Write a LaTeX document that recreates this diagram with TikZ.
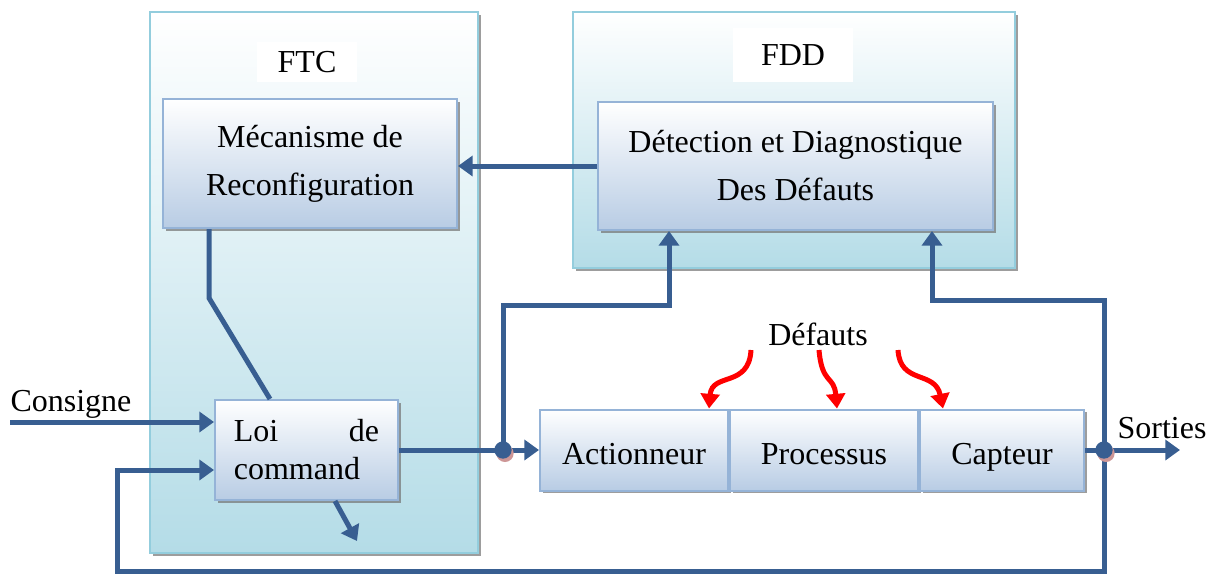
\documentclass[tikz,border=0pt]{standalone}
\usepackage{fontspec}
\setmainfont{Liberation Serif}
\usetikzlibrary{arrows.meta,shadows}

\definecolor{lineblue}{RGB}{56,94,145}
\definecolor{grpborder}{RGB}{147,205,221}
\definecolor{grpfill}{RGB}{180,220,231}
\definecolor{blkborder}{RGB}{149,179,215}
\definecolor{blkfill}{RGB}{184,204,228}
\definecolor{dotshadow}{RGB}{205,150,150}

\tikzset{every picture/.style={line width=0.75pt}}

\begin{document}
\begin{tikzpicture}[x=0.75pt,y=0.75pt,yscale=-1,xscale=1,
  font=\fontsize{24}{36}\selectfont,
  group/.style={draw=grpborder,line width=1.5pt,top color=white,bottom color=grpfill,inner sep=0pt,
    drop shadow={shadow xshift=2.5pt,shadow yshift=-2.5pt,fill=black!55,opacity=0.7}},
  block/.style={draw=blkborder,line width=1.5pt,top color=white,bottom color=blkfill,inner sep=0pt,align=center,
    drop shadow={shadow xshift=2pt,shadow yshift=-2pt,fill=black!55,opacity=0.7}},
  chain/.style={block,minimum height=60.75pt,text height=21pt,text depth=0pt},
  link/.style={draw=lineblue,line width=3.75pt},
  arr/.style={link,-{Triangle[length=11pt,width=15pt]}},
  fault/.style={draw=red,line width=3.75pt,-{Triangle[length=11pt,width=14pt]}},
  junction/.style={circle,fill=lineblue,minimum size=13pt,inner sep=0pt,
    drop shadow={shadow xshift=1.5pt,shadow yshift=-2.5pt,fill=dotshadow,opacity=1}}
]
\useasboundingbox (0,0) rectangle (1221,576);

%Shape: FTC and FDD frames
\node[group,minimum width=246pt,minimum height=405.75pt] (ftc) at (314,282.5) {};
\node[group,minimum width=331.5pt,minimum height=192pt] (fdd) at (794,140) {};
% Text Node
\node[fill=white,minimum width=75pt,minimum height=30pt] (ftclbl) at (307,62) {FTC};
\node[fill=white,minimum width=90pt,minimum height=40pt] (fddlbl) at (793,55) {FDD};

%Shape: blocks
\node[block,minimum width=220.5pt,minimum height=96.75pt] (mec) at (310,163.5) {Mécanisme de\\Reconfiguration};
\node[block,minimum width=296.25pt,minimum height=96pt] (det) at (795.5,166) {Détection et Diagnostique\\Des Défauts};
\node[block,minimum width=137.25pt,minimum height=75pt,text width=109pt,align=left,
  font=\fontsize{24}{28.5}\selectfont] (loi) at (306.5,450) {Loi\hfill de\\command};
\node[chain,minimum width=141pt] (act) at (634,450) {Actionneur};
\node[chain,minimum width=141pt,anchor=west] (proc) at (act.east) {Processus};
\node[chain,minimum width=123pt,anchor=west] (cap) at (proc.east) {Capteur};

% Text Node
\node[anchor=base] (conslbl) at (71,411) {Consigne};
\node[anchor=base] (deflbl) at (818,345) {Défauts};
\node[anchor=base] (sortlbl) at (1162,438) {Sorties};

\coordinate (j1) at (503,450);
\coordinate (j2) at (1104,450);
\coordinate (cons) at (10,422);
\coordinate (sort) at (1180,450);
\coordinate (uout) at (357,541);
\coordinate (f1) at (751,350);
\coordinate (f2) at (819,350);
\coordinate (f3) at (898,350);

%Straight Lines
\draw[arr] (det.west) -- (det.west -| mec.east);
\draw[link] ([xshift=35.25pt]mec.south west) -- ++(0,69) -- ([xshift=42pt]loi.north west);
\draw[arr] (cons) -- ([yshift=-21pt]loi.west);
\draw[arr] ([xshift=90.75pt]loi.south west) -- (uout);
\draw[link] (loi.east) -- (j1);
\draw[arr] (j1) -- (act.west);
\draw[arr] (j1) -- ++(0,-145) -| ([xshift=54pt]det.south west);
\draw[link] (cap.east) -- (j2);
\draw[arr] (j2) -- (sort);
\draw[arr] (j2) -- ++(0,-150) -| ([xshift=-46.5pt]det.south east);
\draw[arr] (j2) -- ++(0,121) -| ([xshift=-72.75pt,yshift=15pt]loi.west) -- ([yshift=15pt]loi.west);

%Curve Lines
\draw[fault] (f1) .. controls (749,388) and (712,372) .. ([xshift=-15pt]act.north east);
\draw[fault] (f2) .. controls (822,385) and (834,375) .. ([xshift=9.75pt]proc.north);
\draw[fault] (f3) .. controls (900,385) and (935,370) .. ([xshift=18pt]cap.north west);

%Shape: junction dots
\node[junction] (j1dot) at (j1) {};
\node[junction] (j2dot) at (j2) {};
\end{tikzpicture}
\end{document}
